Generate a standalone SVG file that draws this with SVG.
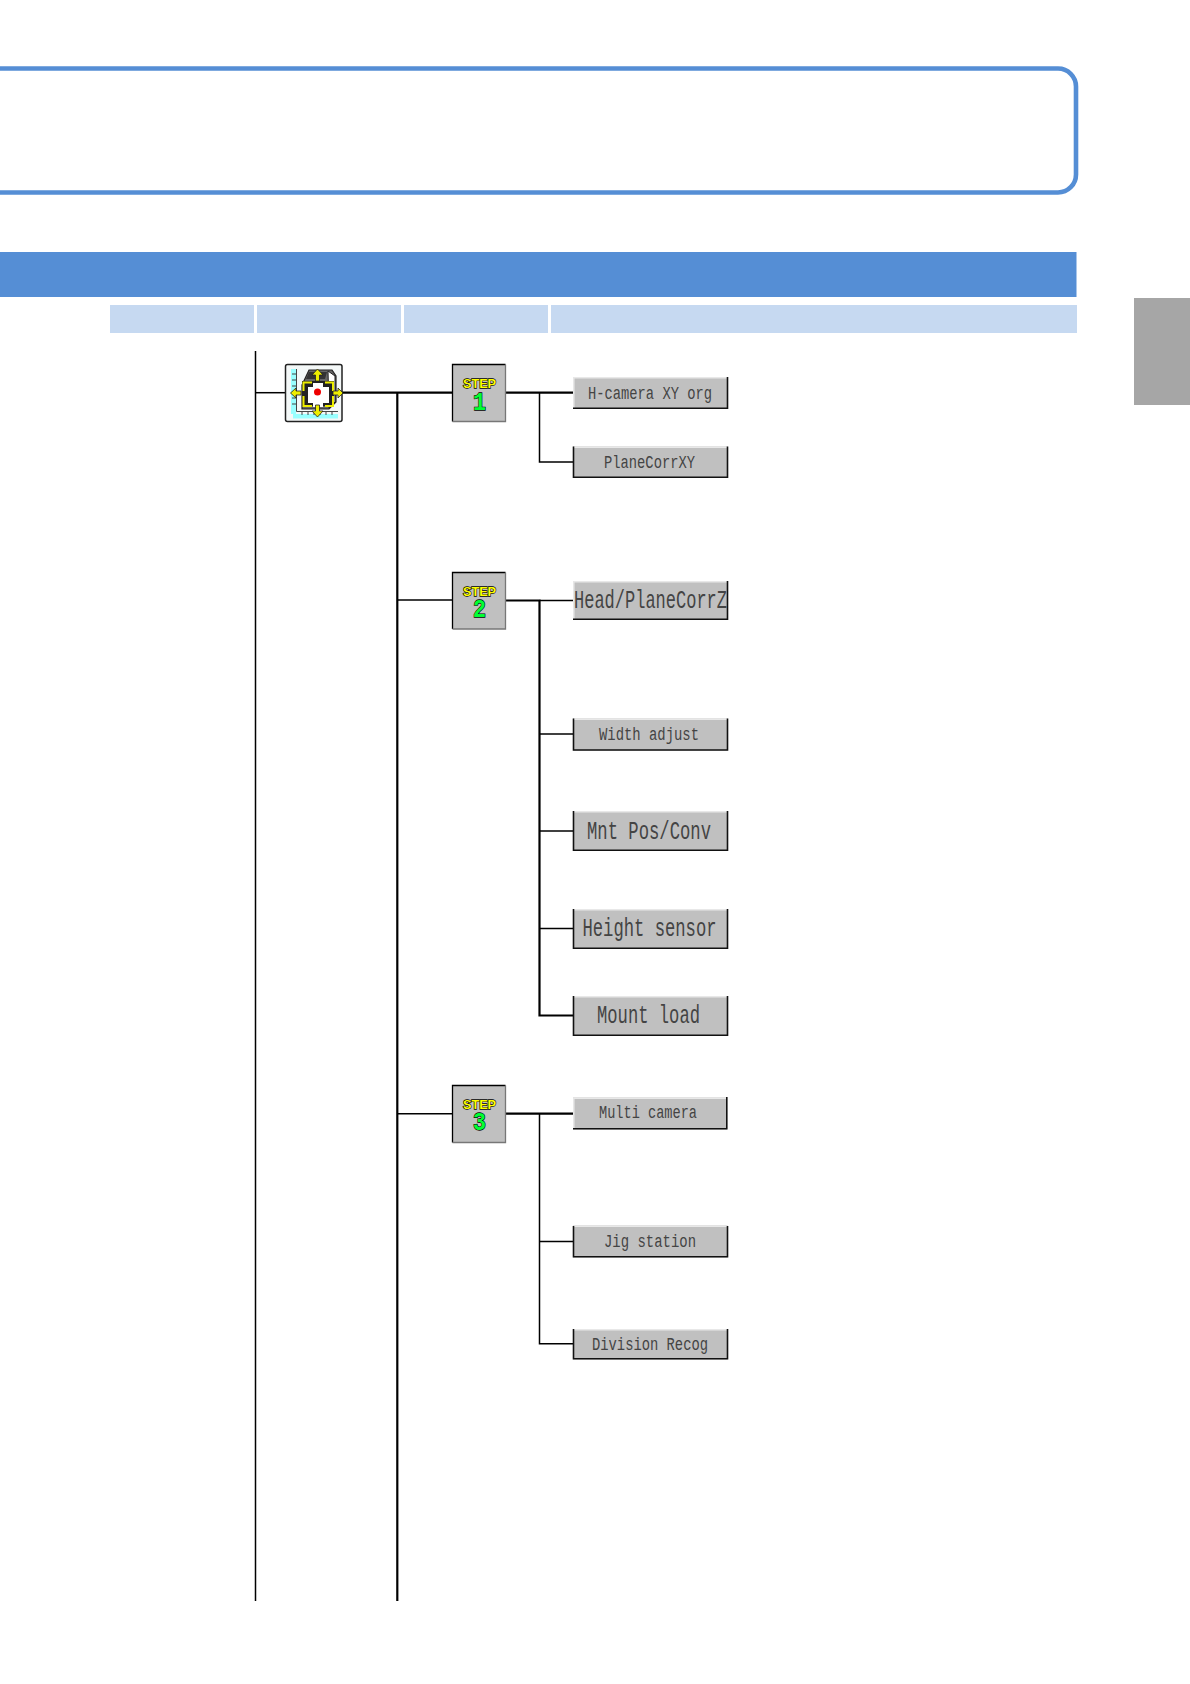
<svg xmlns="http://www.w3.org/2000/svg" width="1190" height="1684" viewBox="0 0 1190 1684">
<defs>
<style>
.l1{stroke:#000;stroke-width:1.5;fill:none}
.l2{stroke:#000;stroke-width:2.2;fill:none}
.face{fill:#c0c0c0}
.hi{stroke:#e8e8e8;stroke-width:1.5;fill:none}
.lo{stroke:#111;stroke-width:1.6;fill:none}
.t{font-family:"Liberation Mono","DejaVu Sans Mono",monospace;fill:#444;text-anchor:start}
.step{font-family:"Liberation Sans",Arial,sans-serif;font-weight:700;font-size:13.500px;fill:#ff0;stroke:#000;stroke-width:1.300;paint-order:stroke;text-anchor:start}
.num{font-family:"Liberation Mono",monospace;font-size:26px;font-weight:700;fill:#0f3;stroke:#000;stroke-width:1.300;paint-order:stroke;text-anchor:start}
</style>
</defs>
<rect width="1190" height="1684" fill="#fff"/>
<path d="M-10 68.500H1058a18 18 0 0 1 18 18V174.500a18 18 0 0 1-18 18H-10" fill="none" stroke="#558ed5" stroke-width="4.600"/>
<rect x="0" y="252" width="1076.500" height="45" fill="#558ed5"/>
<g fill="#c6d9f1">
<rect x="110" y="305" width="144" height="28"/>
<rect x="257" y="305" width="144" height="28"/>
<rect x="404" y="305" width="144" height="28"/>
<rect x="551" y="305" width="526" height="28"/>
</g>
<rect x="1134" y="298" width="56" height="107" fill="#a6a6a6"/>
<g id="connectors">
<path class="l1" d="M255.500 351V1601"/>
<path class="l1" d="M255.500 392.700H285"/>
<path class="l2" d="M342 392.700H452"/>
<path class="l2" d="M397.300 392.700V1601"/>
<path class="l1" d="M397 600H452"/>
<path class="l1" d="M397 1113.700H452"/>
<path class="l2" d="M505 392.700H573"/>
<path class="l1" d="M539.500 392.700V462H573"/>
<path class="l2" d="M505 600.500H539.500V1015.500H573"/>
<path class="l1" d="M539.500 600.500H573"/>
<path class="l1" d="M539.500 734H573"/>
<path class="l1" d="M539.500 831H573"/>
<path class="l1" d="M539.500 928.500H573"/>
<path class="l2" d="M505 1113.700H573"/>
<path class="l1" d="M539.500 1113.700V1343.700H573"/>
<path class="l1" d="M539.500 1241.500H573"/>
</g>
<g id="icon">
<rect x="285.500" y="364.500" width="56.500" height="57" rx="2" fill="#f4f8f8" stroke="#222" stroke-width="1.500"/>
<rect x="291" y="369" width="5" height="45" fill="#9ff"/>
<rect x="293" y="414" width="45" height="4.500" fill="#9ff"/>
<path d="M296.500 369V411.500H338M292 374H296M292 380H296M292 386H296M292 392H296M292 398H296M292 404H296M302 411V415M308 411V415M314 411V415M320 411V415M326 411V415M332 411V415" fill="none" stroke="#444" stroke-width="1"/>
<path d="M302 385L309 370H332L336 376V402L329 409H302Z" fill="#666" stroke="#222" stroke-width="1.200"/>
<path d="M328 371L335 376V402L329 408Z" fill="#fff" stroke="#222"/>
<path d="M309 372H327L325 379H306Z" fill="#333"/>
<path d="M302 381H334V406H302Z" fill="#222"/>
<path d="M308 387H313V383H323V387H329V403H323V407H313V403H308Z" fill="#fff"/>
<path d="M303.500 391V382.500H312M333 391V382.500H325M303.500 396V406H312M333 396V406H325" fill="none" stroke="#ee0" stroke-width="2"/>
<path d="M315.500 381V375H312L317.500 369L323 375H319.500V381ZM315.500 405V411H312L317.500 417L323 411H319.500V405ZM301 391H296V388L290.500 393L296 398V395H301ZM333 391H338V388L343 393L338 398V395H333Z" fill="#ee0" stroke="#222" stroke-width=".8"/>
<circle cx="317.500" cy="392" r="3.500" fill="#e00"/>
</g>
<g id="step1">
<rect x="452" y="364" width="53.500" height="57.500" class="face"/>
<path d="M452.500 421.500V364.500H505.500" fill="none" stroke="#000" stroke-width="1.300"/>
<path d="M505.500 364.500V421.500H452.500" fill="none" stroke="#777" stroke-width="1.300"/>
<text class="step" x="463" y="388" textLength="33" lengthAdjust="spacingAndGlyphs">STEP</text>
<text class="num" x="473" y="409.500" textLength="13" lengthAdjust="spacingAndGlyphs">1</text>
</g>
<g id="step2">
<rect x="452" y="572" width="53.500" height="57" class="face"/>
<path d="M452.500 629V572.500H505.500" fill="none" stroke="#000" stroke-width="1.300"/>
<path d="M505.500 572.500V629H452.500" fill="none" stroke="#777" stroke-width="1.300"/>
<text class="step" x="463" y="596" textLength="33" lengthAdjust="spacingAndGlyphs">STEP</text>
<text class="num" x="473" y="617" textLength="13" lengthAdjust="spacingAndGlyphs">2</text>
</g>
<g id="step3">
<rect x="452" y="1085" width="53.500" height="57.500" class="face"/>
<path d="M452.500 1142.500V1085.500H505.500" fill="none" stroke="#000" stroke-width="1.300"/>
<path d="M505.500 1085.500V1142.500H452.500" fill="none" stroke="#777" stroke-width="1.300"/>
<text class="step" x="463" y="1109" textLength="33" lengthAdjust="spacingAndGlyphs">STEP</text>
<text class="num" x="473" y="1130" textLength="13" lengthAdjust="spacingAndGlyphs">3</text>
</g>
<g id="b1"><rect x="573" y="377" width="154.500" height="32" class="face"/><path class="hi" d="M573.800 408V377.800H727"/><path class="lo" d="M573 408.200H727.500V377"/><text class="t" x="588" y="398.500" font-size="18.500" textLength="124" lengthAdjust="spacingAndGlyphs">H-camera XY org</text></g>
<g id="b2"><rect x="573" y="446.500" width="154.500" height="31.500" class="face"/><path class="hi" d="M574 447.300H727"/><path class="lo" d="M573.500 446.500V477.200H727.500V446.500"/><text class="t" x="604" y="467.500" font-size="18.500" textLength="91" lengthAdjust="spacingAndGlyphs">PlaneCorrXY</text></g>
<g id="b3"><rect x="573" y="581" width="154.500" height="39" class="face"/><path class="hi" d="M573.800 619V581.800H727"/><path class="lo" d="M573 619.200H727.500V581"/><text class="t" x="574" y="607.500" font-size="25" textLength="153" lengthAdjust="spacingAndGlyphs">Head/PlaneCorrZ</text></g>
<g id="b4"><rect x="573" y="718.500" width="154.500" height="32" class="face"/><path class="hi" d="M574 719.300H727"/><path class="lo" d="M573.500 718.500V750H727.500V718.500"/><text class="t" x="599" y="739.500" font-size="18.500" textLength="100" lengthAdjust="spacingAndGlyphs">Width adjust</text></g>
<g id="b5"><rect x="573" y="811" width="154.500" height="40" class="face"/><path class="hi" d="M574 811.800H727"/><path class="lo" d="M573.500 811V850.200H727.500V811"/><text class="t" x="587" y="838.500" font-size="25" textLength="124" lengthAdjust="spacingAndGlyphs">Mnt Pos/Conv</text></g>
<g id="b6"><rect x="573" y="909" width="154.500" height="40" class="face"/><path class="hi" d="M574 909.800H727"/><path class="lo" d="M573.500 909V948.200H727.500V909"/><text class="t" x="582.500" y="936" font-size="25" textLength="134" lengthAdjust="spacingAndGlyphs">Height sensor</text></g>
<g id="b7"><rect x="573" y="996" width="154.500" height="40" class="face"/><path class="hi" d="M574 996.800H727"/><path class="lo" d="M573.500 996V1035.200H727.500V996"/><text class="t" x="597" y="1023" font-size="25" textLength="103" lengthAdjust="spacingAndGlyphs">Mount load</text></g>
<g id="b8"><rect x="573" y="1097.500" width="154" height="32" class="face"/><path class="hi" d="M573.800 1128V1098.200H726"/><path class="lo" d="M573 1128.700H726.800V1097"/><text class="t" x="599" y="1118" font-size="18.500" textLength="98" lengthAdjust="spacingAndGlyphs">Multi camera</text></g>
<g id="b9"><rect x="573" y="1225.500" width="154.500" height="32" class="face"/><path class="hi" d="M574 1226.300H727"/><path class="lo" d="M573.500 1226V1256.700H727.500V1226"/><text class="t" x="604" y="1246.500" font-size="18.500" textLength="92" lengthAdjust="spacingAndGlyphs">Jig station</text></g>
<g id="b10"><rect x="573" y="1329" width="154.500" height="30.500" class="face"/><path class="hi" d="M574 1329.800H727"/><path class="lo" d="M573.500 1329V1358.700H727.500V1329"/><text class="t" x="592" y="1349.500" font-size="18.500" textLength="116" lengthAdjust="spacingAndGlyphs">Division Recog</text></g>
</svg>
